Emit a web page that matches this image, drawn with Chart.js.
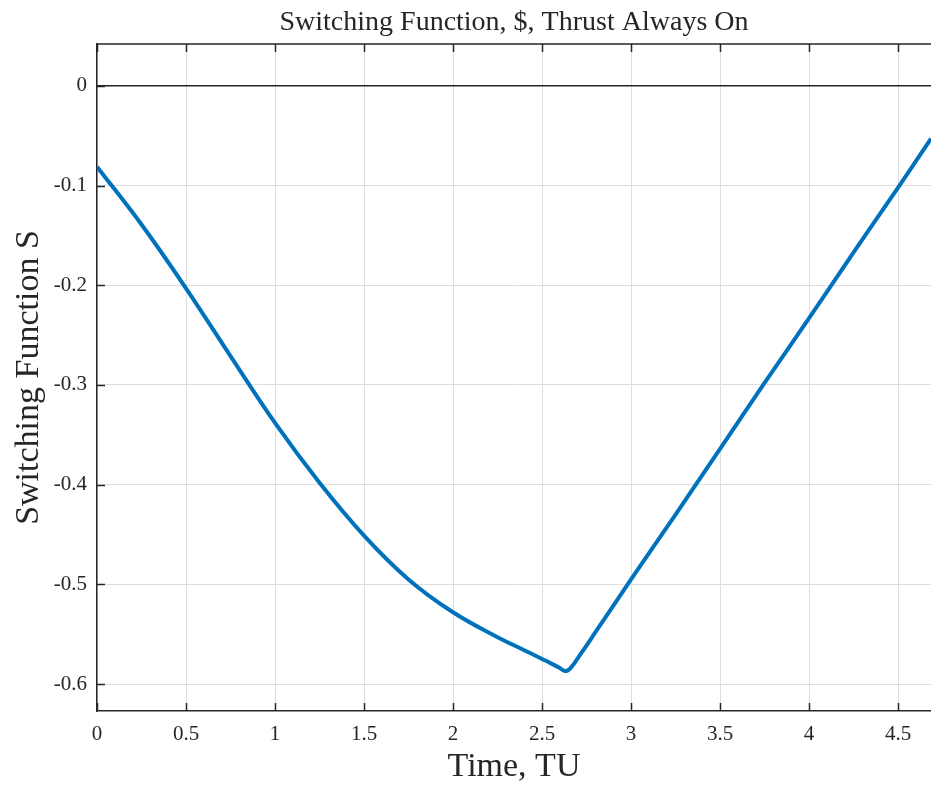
<!DOCTYPE html>
<html>
<head>
<meta charset="utf-8">
<title>Switching Function</title>
<script src="https://cdn.jsdelivr.net/npm/chart.js@4.4.1/dist/chart.umd.min.js"></script>
<style>
  html, body { margin: 0; padding: 0; background: #fff; }
  #wrap { width: 931px; height: 785px; position: relative; }
</style>
</head>
<body>
<div id="wrap"><canvas id="sfChart"></canvas></div>
<script>
// time samples (TU) and switching function values
const timeTU = [0, 0.25, 0.5, 0.75, 1.0, 1.25, 1.5, 1.75, 2.0, 2.25, 2.4, 2.5, 2.55, 2.6, 2.63, 2.66, 2.72, 2.8, 3.0, 3.25, 3.5, 3.75, 4.0, 4.25, 4.5, 4.685];
const switchingS = [-0.081, -0.139, -0.203, -0.271, -0.338, -0.398, -0.451, -0.495, -0.528, -0.553, -0.566, -0.5748, -0.5792, -0.5838, -0.587, -0.584, -0.569, -0.548, -0.495, -0.430, -0.364, -0.298, -0.233, -0.167, -0.102, -0.053];

// reference line at S = 0
const zeroLineT = [0, 4.685];
const zeroLineS = [0, 0];

const xTickStep = 0.5;
const yTickStep = 0.1;

const axisColor = "#262626";
const serif = "'Liberation Serif', 'Times New Roman', serif";

const toPoints = (xs, ys) => xs.map((x, i) => ({ x: x, y: ys[i] }));

// top border plus inward tick marks, matlab style
const axesFrame = {
  id: "axesFrame",
  afterDatasetsDraw(chart) {
    const { ctx, chartArea: a, scales } = chart;
    const x = scales.x, y = scales.y;
    const len = 8;
    ctx.save();
    ctx.strokeStyle = axisColor;
    ctx.lineWidth = 1.5;
    ctx.beginPath();
    ctx.moveTo(a.left, a.top);
    ctx.lineTo(a.right, a.top);
    x.ticks.forEach(t => {
      const px = Math.round(x.getPixelForValue(t.value)) + 0.5;
      ctx.moveTo(px, a.bottom);
      ctx.lineTo(px, a.bottom - len);
      ctx.moveTo(px, a.top);
      ctx.lineTo(px, a.top + len);
    });
    y.ticks.forEach(t => {
      const py = Math.round(y.getPixelForValue(t.value)) + 0.5;
      ctx.moveTo(a.left, py);
      ctx.lineTo(a.left + len, py);
    });
    ctx.stroke();
    ctx.restore();
  }
};

const ctx = document.getElementById("sfChart");

new Chart(ctx, {
  type: "line",
  data: {
    datasets: [
      {
        label: "S",
        data: toPoints(timeTU, switchingS),
        borderColor: "#0072BD",
        borderWidth: 4,
        pointRadius: 0,
        tension: 0.4,
        fill: false
      },
      {
        label: "zero",
        data: toPoints(zeroLineT, zeroLineS),
        borderColor: axisColor,
        borderWidth: 1.5,
        pointRadius: 0,
        fill: false
      }
    ]
  },
  options: {
    responsive: true,
    maintainAspectRatio: false,
    animation: false,
    layout: { padding: 0 },
    plugins: {
      legend: { display: false },
      tooltip: { enabled: false },
      title: {
        display: true,
        text: "Switching Function, $, Thrust Always On",
        fullSize: false,
        color: axisColor,
        font: { family: serif, size: 28, weight: "normal", lineHeight: 1 },
        padding: { top: 9, bottom: 7 }
      }
    },
    scales: {
      x: {
        type: "linear",
        min: 0,
        max: 4.685,
        afterFit: (scale) => { scale.height = 74; },
        ticks: {
          stepSize: xTickStep,
          includeBounds: false,
          padding: 11,
          color: axisColor,
          font: { family: serif, size: 21 },
          callback: (v) => String(+v.toFixed(2))
        },
        grid: { color: "#dedede", lineWidth: 1, drawTicks: false },
        border: { display: true, color: axisColor, width: 1.5 },
        title: {
          display: true,
          text: "Time, TU",
          color: axisColor,
          font: { family: serif, size: 34, lineHeight: 1 },
          padding: { top: 0, bottom: 1 }
        }
      },
      y: {
        type: "linear",
        min: -0.627,
        max: 0.042,
        afterFit: (scale) => { scale.width = 97; },
        ticks: {
          stepSize: yTickStep,
          includeBounds: false,
          padding: 10,
          color: axisColor,
          font: { family: serif, size: 21 },
          callback: (v) => String(+v.toFixed(2))
        },
        grid: { color: "#dedede", lineWidth: 1, drawTicks: false },
        border: { display: true, color: axisColor, width: 1.5 },
        title: {
          display: true,
          text: "Switching Function S",
          color: axisColor,
          font: { family: serif, size: 34, lineHeight: 1 },
          padding: { top: 12, bottom: 0 }
        }
      }
    }
  },
  plugins: [axesFrame]
});
</script>
</body>
</html>
